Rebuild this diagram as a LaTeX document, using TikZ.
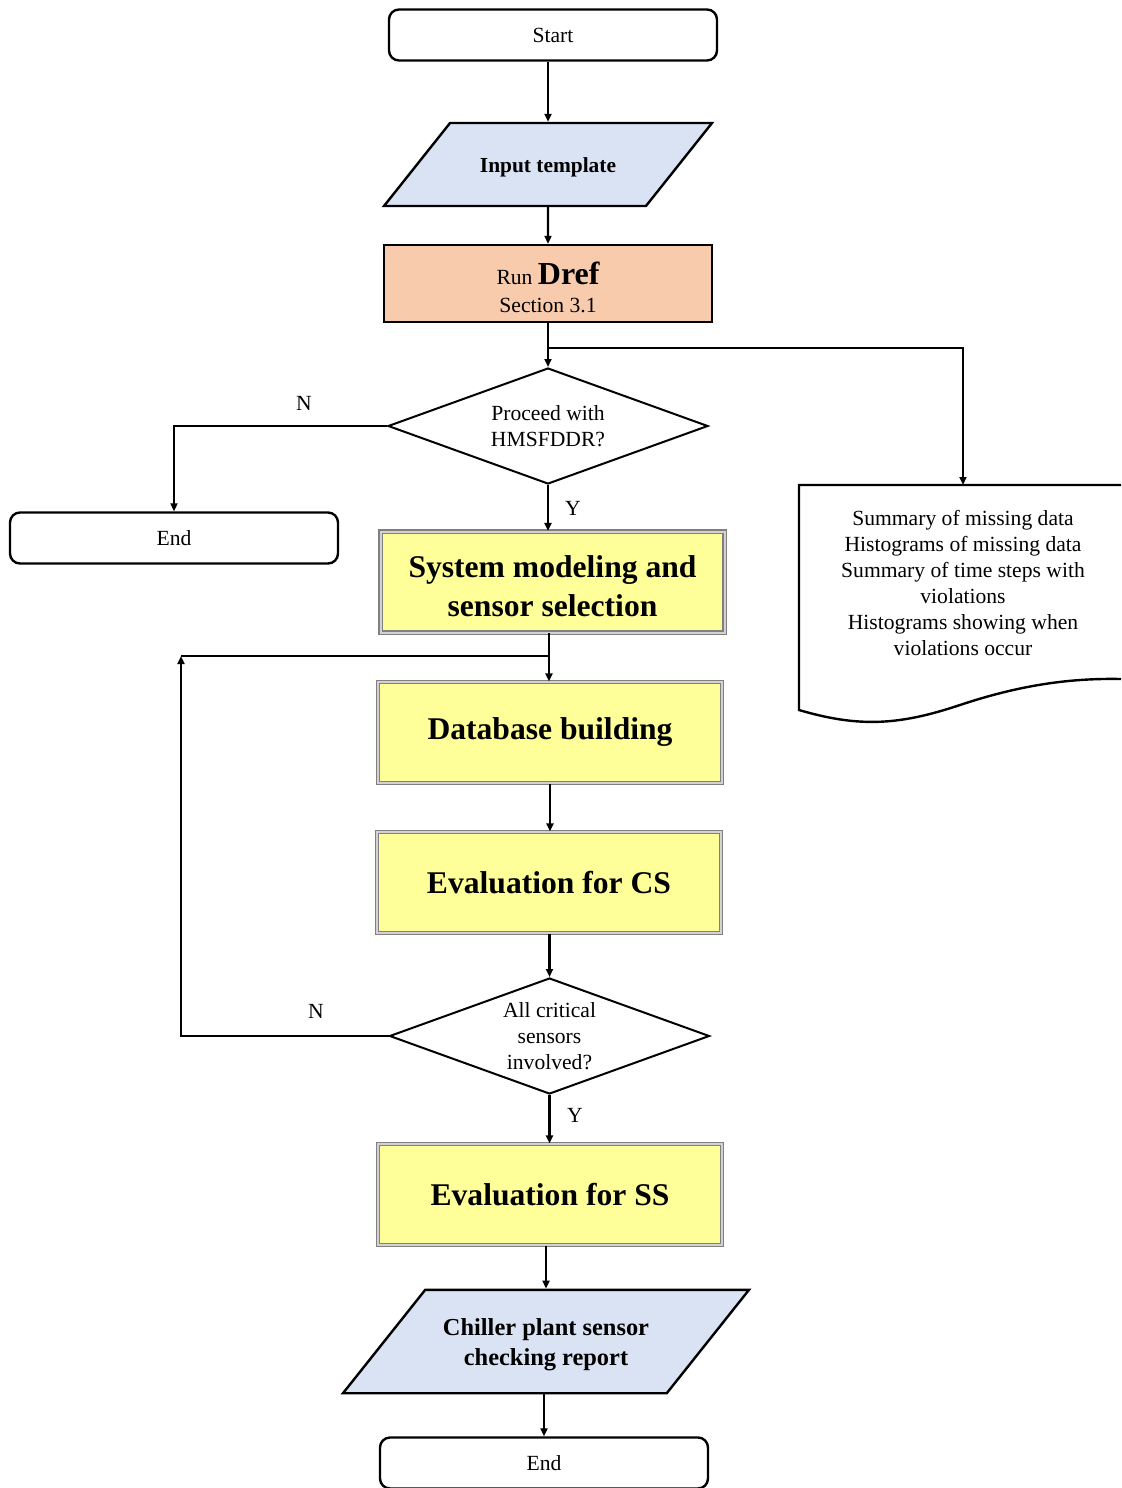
\documentclass[tikz,border=0pt]{standalone}
\usepackage{fontspec}
\setmainfont{Liberation Serif}
\usetikzlibrary{shapes.geometric,arrows.meta}

\definecolor{inputblue}{HTML}{DAE3F3}
\definecolor{drefpeach}{HTML}{F8CBAD}
\definecolor{stageyellow}{HTML}{FFFF99}

\tikzset{
  flowline/.style={line width=1.2pt,-{Triangle[length=4pt,width=3.5pt]}},
  plainline/.style={line width=1.2pt},
  terminal/.style={draw,line width=1.2pt,rounded corners=5pt,minimum width=164pt,minimum height=25.5pt,inner sep=0pt,font=\fontsize{10.8}{12}\selectfont},
  iobox/.style={trapezium,trapezium left angle=51.5,trapezium right angle=128.5,trapezium stretches body=true,draw,line width=1.2pt,fill=inputblue,inner xsep=0pt,align=center},
  decision/.style={diamond,draw,line width=1pt,aspect=2.75,minimum width=160pt,minimum height=58pt,inner sep=0pt,align=center,font=\fontsize{10.8}{13}\selectfont},
  stage/.style={draw=gray,line width=0.6pt,double=gray!35,double distance=1pt,fill=stageyellow,minimum width=172pt,minimum height=50.5pt,align=center,font=\bfseries\fontsize{15.8}{19.5}\selectfont},
  lbl/.style={font=\fontsize{10.8}{12}\selectfont},
}

\begin{document}
\begin{tikzpicture}[x=0.5pt,y=-0.5pt]
\useasboundingbox (0,0) rectangle (1121,1488);

% main column
\node[terminal] (start) at (553,35) {Start};
\node[iobox,inner ysep=15.75pt,text height=9pt,text depth=1pt,minimum width=164pt,font=\bfseries\fontsize{10.7}{12}\selectfont] (input) at (548,164.5) {Input template};
\node[draw,line width=1.2pt,fill=drefpeach,minimum width=164pt,minimum height=38.5pt,inner sep=0pt,align=center,font=\fontsize{10.8}{14}\selectfont] (dref) at (548,283.5) {\rule{0pt}{15pt}Run {\bfseries\fontsize{16}{14}\selectfont Dref}\\Section 3.1};
\node[decision] (ask) at (548,426) {Proceed with\\HMSFDDR?};
\node[terminal] (endA) at (174,538) {End};
\node[stage] (model) at (552.5,582) {\rule{0pt}{15pt}System modeling and\\sensor selection};
\node[stage] (dbase) at (550,732.5) {Database building};
\node[stage] (evalcs) at (549,882.5) {Evaluation for CS};
\node[decision] (crit) at (549.5,1036) {All critical\\sensors\\involved?};
\node[stage] (evalss) at (550,1194.5) {Evaluation for SS};
\node[iobox,inner ysep=11pt,minimum width=203pt,font=\bfseries\fontsize{12.2}{15}\selectfont] (report) at (546,1341.5) {\rule{0pt}{12pt}Chiller plant sensor\\checking report};
\node[terminal] (endB) at (544,1463) {End};

% output document on the right
\draw[line width=1.2pt] (1121,485) -- (799,485) -- (799,710) .. controls (860,728) and (900,725) .. (960,705) .. controls (1020,685) and (1070,678) .. (1121,679);
\node[align=center,font=\fontsize{10.8}{13}\selectfont] (doc) at (963,583) {Summary of missing data\\Histograms of missing data\\Summary of time steps with\\violations\\Histograms showing when\\violations occur};
\coordinate (doctop) at (963,485);

% connectors
\coordinate (split) at (548,348);
\coordinate (merge) at (549,656);
\coordinate (loopup) at (181,656);
\draw[flowline] (input.north |- start.south) -- (input.north);
\draw[flowline] (input.south) -- (dref.north);
\draw[flowline] (dref.south) -- (ask.north);
\draw[flowline] (split) -| (doctop);
\draw[flowline] (ask.west) -| (endA.north);
\draw[flowline] (ask.south) -- (model.north -| ask.south);
\draw[flowline] (model.south -| merge) -- (dbase.north -| merge);
\draw[flowline] (crit.west) -| (loopup);
\draw[plainline] (loopup) -- (merge);
\draw[flowline] (dbase.south) -- (evalcs.north -| dbase.south);
\draw[flowline] (evalcs.south -| crit.north) -- (crit.north);
\draw[flowline] (crit.south) -- (evalss.north -| crit.south);
\draw[flowline] (evalss.south -| report.north) -- (report.north);
\draw[flowline] (report.south -| endB.north) -- (endB.north);

% branch labels
\node[lbl] (nask) at (304,403) {N};
\node[lbl] (yask) at (573,508) {Y};
\node[lbl] (ncrit) at (316,1011) {N};
\node[lbl] (ycrit) at (575,1115) {Y};
\end{tikzpicture}
\end{document}
